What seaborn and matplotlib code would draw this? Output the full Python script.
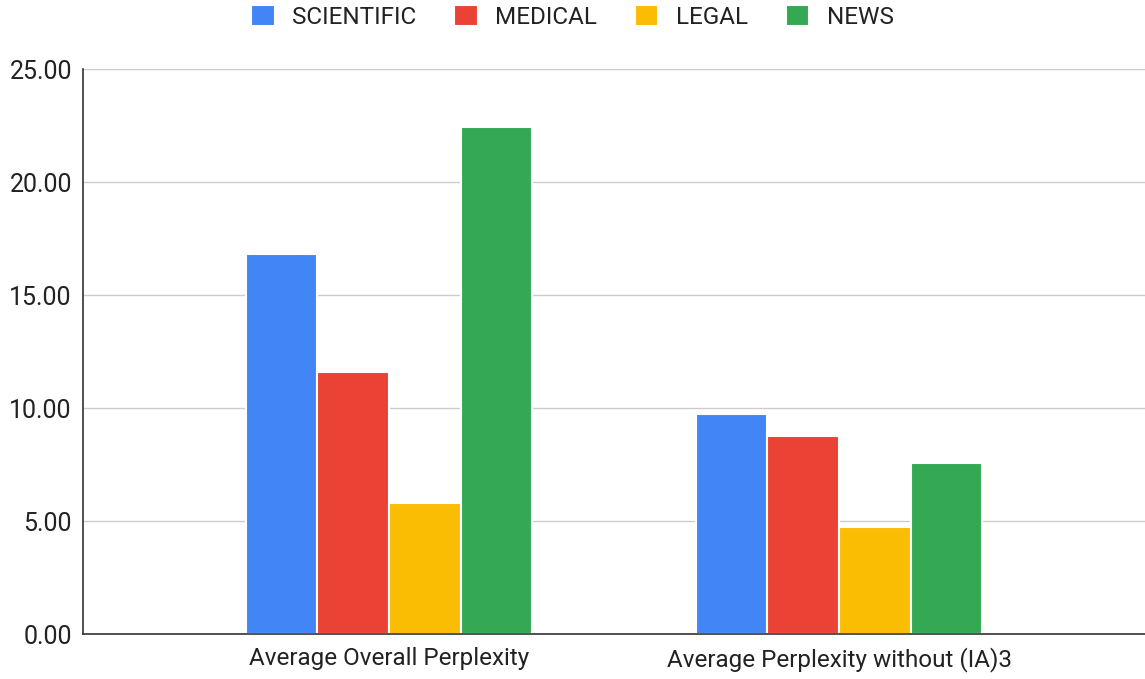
import pandas as pd
import matplotlib
matplotlib.use("Agg")
import matplotlib.pyplot as plt
import seaborn as sns
from matplotlib.ticker import FuncFormatter

# data
metrics = ["Average Overall Perplexity", "Average Perplexity without (IA)3"]
domains = ["SCIENTIFIC", "MEDICAL", "LEGAL", "NEWS"]
scientific = [16.81, 9.73]
medical = [11.61, 8.76]
legal = [5.80, 4.73]
news = [22.46, 7.59]
colors = ["#4285F4", "#EA4335", "#FBBC04", "#34A853"]

rows = []
for dom, vals in zip(domains, [scientific, medical, legal, news]):
    for m, v in zip(metrics, vals):
        rows.append({"Metric": m, "Domain": dom, "Value": v})
df = pd.DataFrame(rows)

sns.set_theme(style="white")
plt.rcParams["font.family"] = ["Roboto", "DejaVu Sans"]

fig = plt.figure(figsize=(11.45, 6.79), dpi=100)
ax = fig.add_axes([0.0725, 0.066, 0.9275, 0.832])

sns.barplot(data=df, x="Metric", y="Value", hue="Domain", hue_order=domains,
            palette=colors, width=0.636, edgecolor="white", linewidth=1.5,
            saturation=1, ax=ax, legend=True)

ax.set_xlim(-0.68, 1.68)
ax.set_ylim(0, 25)
ax.set_yticks([0, 5, 10, 15, 20, 25])
ax.yaxis.set_major_formatter(FuncFormatter(lambda v, p: f"{v:.2f}"))
ax.grid(axis="y", color="#cccccc", linewidth=1)
ax.set_axisbelow(True)
ax.set_xlabel("")
ax.set_ylabel("")
for s in ["top", "right"]:
    ax.spines[s].set_visible(False)
for s in ["left", "bottom"]:
    ax.spines[s].set_color("#333333")
    ax.spines[s].set_linewidth(1.2)
ax.tick_params(axis="y", length=0, labelsize=18, colors="#222222", pad=8)
ax.tick_params(axis="x", length=0, labelsize=17.5, colors="#222222", pad=9)

handles, labels = ax.get_legend_handles_labels()
ax.get_legend().remove()
fig.legend(handles, labels, loc="center", bbox_to_anchor=(0.5, 1 - 17 / 679),
           ncol=4, frameon=False, fontsize=17.5, handlelength=0.96,
           handleheight=0.96, handletextpad=0.72, columnspacing=1.56,
           labelcolor="#222222")

fig.savefig("out.png", dpi=100)
